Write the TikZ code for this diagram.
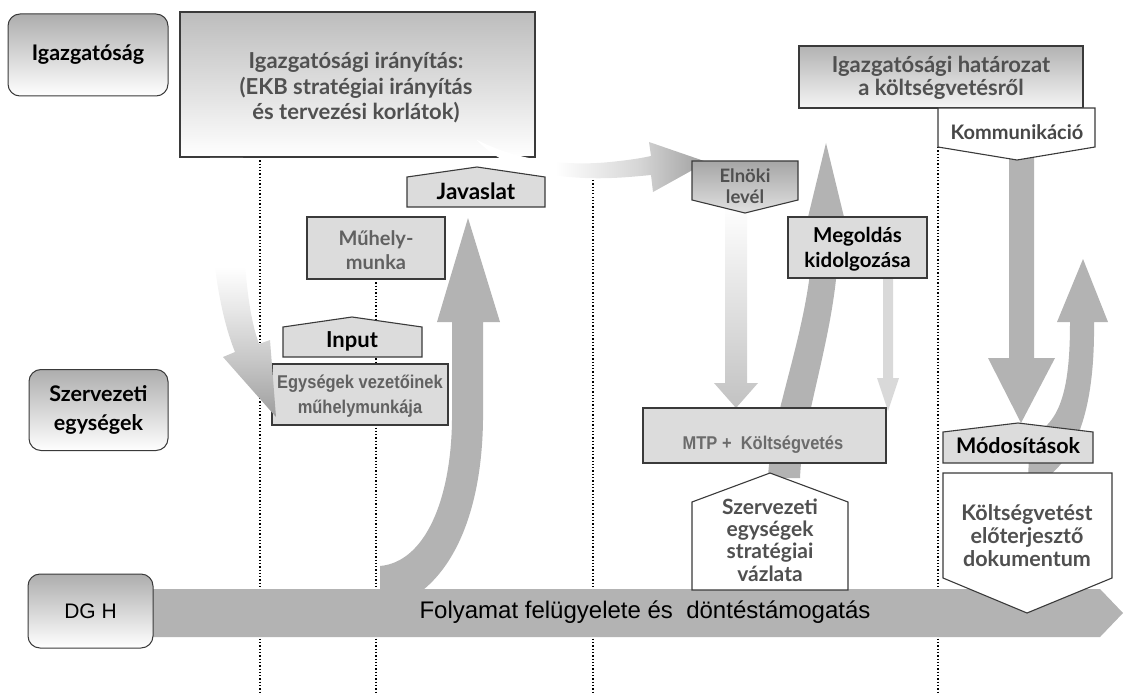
\documentclass[tikz,border=0pt]{standalone}
\usepackage{fontspec}
\setmainfont{Lato}
\newfontfamily\arialfont{Liberation Sans}
\newfontfamily\arialnfont[FakeStretch=0.89]{Liberation Sans}
\definecolor{arrowgray}{HTML}{B3B3B3}
\definecolor{boxgray}{HTML}{DCDCDC}
\definecolor{edge}{HTML}{3A3A3A}
\definecolor{txtgray}{HTML}{505050}
\pgfdeclareverticalshading{fadeA}{100bp}{color(0bp)=(black!38); color(25bp)=(black!38); color(36bp)=(black!22); color(46bp)=(black!9); color(54bp)=(white); color(100bp)=(white)}
\pgfdeclarehorizontalshading{fadeB}{100bp}{color(0bp)=(white); color(25bp)=(white); color(42bp)=(white); color(60bp)=(black!16); color(75bp)=(black!38); color(100bp)=(black!38)}
\begin{document}
\begin{tikzpicture}[x=1pt,y=-1pt,
  lbl/.style={draw=edge, line width=1pt, rounded corners=12pt, top color=black!32, bottom color=white,
    font=\bfseries\fontsize{21.5}{29}\selectfont, align=center, inner sep=0pt},
  dotline/.style={dotted, line width=1.3pt, black},
  plainbox/.style={draw=edge, line width=1.1pt, fill=boxgray},
  whitebox/.style={draw=edge, line width=1.1pt, fill=white},
  txt/.style={align=center, inner sep=0pt},
]
\useasboundingbox (0,0) rectangle (1126,695);

% dotted guide lines
\coordinate (d1a) at (260,157); \coordinate (d1b) at (260,695);
\coordinate (d2a) at (376,279); \coordinate (d2b) at (376,695);
\coordinate (d3a) at (593,180); \coordinate (d3b) at (593,695);
\coordinate (d4a) at (938,147); \coordinate (d4b) at (938,695);
\draw[dotline] (d1a) -- (d1b);
\draw[dotline] (d2a) -- (d2b);
\draw[dotline] (d3a) -- (d3b);
\draw[dotline] (d4a) -- (d4b);

% process band
\fill[arrowgray] (153,589) -- (1100,589) -- (1123,613) -- (1100,637) -- (153,637) -- cycle;
\node[txt, font=\arialfont\fontsize{24}{28}\selectfont] (band) at (645,612) {Folyamat felügyelete és~ döntéstámogatás};

% up arrow to Javaslat
\fill[arrowgray] (380,590) -- (380,566) .. controls (425,562) and (451,500) .. (452,420) -- (452,322) -- (437,322) -- (468,218) -- (500,322) -- (483,322) -- (483,420) .. controls (482,500) and (460,560) .. (423,590) -- cycle;

% arrow behind Megoldas
\fill[arrowgray] (768,478) .. controls (770,420) and (808,330) .. (812,250) -- (800,250) -- (826,143) -- (852,250) -- (838,250) .. controls (836,330) and (802,420) .. (800,478) -- cycle;

% right curved up arrow
\fill[arrowgray] (1028,478) -- (1030,436) .. controls (1062,424) and (1070,385) .. (1070,322) -- (1057,322) -- (1083,259) -- (1108,322) -- (1094,322) .. controls (1095,405) and (1078,455) .. (1046,478) -- cycle;

% Kommunikacio down arrow
\fill[arrowgray] (1009,150) -- (1009,358) -- (988,358) -- (1021,423) -- (1055,358) -- (1034,358) -- (1034,150) -- cycle;

% faded down arrow below Elnoki
\shade[top color=white, bottom color=black!24] (725,205) -- (725,383) -- (714,383) -- (736,408) -- (758,383) -- (747,383) -- (747,205) -- cycle;

% thin light arrow
\fill[black!15] (883,278) -- (883,378) -- (877,378) -- (888,411) -- (899,378) -- (893,378) -- (893,278) -- cycle;

% left labels
\node[lbl, minimum width=160pt, minimum height=82pt] (igaz) at (88,55) {Igazgatóság};
\node[lbl, minimum width=139pt, minimum height=81pt] (szerv) at (98.5,410) {Szervezeti\\egységek};
\node[lbl, minimum width=125pt, minimum height=74pt, font=\arialfont\fontsize{21}{24}\selectfont] (dgh) at (90.5,611) {DG H};

% main box
\node[draw=edge, line width=1.1pt, top color=black!26, bottom color=white, minimum width=355pt, minimum height=145pt, inner sep=0pt] (main) at (357.5,84.5) {};
\node[txt, text=txtgray, font=\bfseries\fontsize{22}{25.5}\selectfont] (maintxt) at (356,88) {Igazgatósági irányítás:\\(EKB stratégiai irányítás\\és tervezési korlátok)};

% Elnoki curved arrow
\shade[shading=fadeB] (477,140) .. controls (520,162) and (570,166) .. (610,162) .. controls (630,160) and (642,158) .. (651,156) -- (649,142) -- (707,162) -- (653,192) -- (651,175) .. controls (630,177) and (610,179) .. (585,178) .. controls (535,176) and (500,165) .. (477,140) -- cycle;

% Muhely-munka
\node[plainbox, minimum width=138pt, minimum height=62pt, inner sep=0pt] (muhely) at (376,248) {};
\node[txt, text=black!62, font=\bfseries\fontsize{20}{24}\selectfont] (muhelytxt) at (376,250) {Műhely-\\munka};

% Input
\draw[plainbox] (283,357) -- (283,327) -- (352,317) -- (422,327) -- (422,357) -- cycle;
\node[txt, font=\bfseries\fontsize{22}{24}\selectfont] (input) at (352,341) {Input};

% Egysegek vezetoinek
\node[plainbox, minimum width=176pt, minimum height=61pt, inner sep=0pt] (egys) at (360,394.5) {};
\node[txt, text=black!62, font=\arialnfont\bfseries\fontsize{18.5}{25}\selectfont] (egystxt) at (360,396) {Egységek vezetőinek\\műhelymunkája};

% left faded curved arrow
\shade[shading=fadeA] (210,158) .. controls (208,250) and (220,315) .. (235,352) -- (223,357) -- (276,417) -- (270,340) -- (259,344) .. controls (246,308) and (242,250) .. (243,158) -- cycle;

% Javaslat
\draw[plainbox] (407,207) -- (407,177) -- (477,167) -- (545,177) -- (545,207) -- cycle;
\node[txt, font=\bfseries\fontsize{22.5}{24}\selectfont] (javaslat) at (476,191) {Javaslat};

% Elnoki level
\draw[draw=edge, line width=1.1pt, top color=black!35, bottom color=black!12] (692,161) -- (798,161) -- (798,200) -- (745,213) -- (692,200) -- cycle;
\node[txt, text=txtgray, font=\bfseries\fontsize{18.5}{21}\selectfont] (elnoki) at (745,186) {Elnöki\\levél};

% Megoldas
\node[plainbox, minimum width=139pt, minimum height=61pt, inner sep=0pt] (megold) at (857.5,247.5) {};
\node[txt, font=\bfseries\fontsize{20.5}{25}\selectfont] (megoldtxt) at (857.5,249) {Megoldás\\kidolgozása};

% MTP
\node[plainbox, minimum width=243pt, minimum height=55pt, inner sep=0pt] (mtp) at (764.5,435.5) {};
\node[txt, text=black!58, font=\arialnfont\bfseries\fontsize{18.5}{22}\selectfont] (mtptxt) at (763,445) {MTP + \ Költségvetés};

% Szervezeti egysegek strategiai vazlata
\draw[whitebox] (692,590) -- (692,502) -- (770,473) -- (848,502) -- (848,590) -- cycle;
\node[txt, text=txtgray, font=\bfseries\fontsize{21}{22.3}\selectfont] (vazlat) at (770,540) {Szervezeti\\egységek\\stratégiai\\vázlata};

% Igazgatosagi hatarozat
\node[draw=edge, line width=1.1pt, top color=black!30, bottom color=black!4, minimum width=284pt, minimum height=62pt, inner sep=0pt] (hatar) at (941,77) {};
\node[txt, text=txtgray, font=\bfseries\fontsize{22}{22.5}\selectfont] (hatartxt) at (941,78) {Igazgatósági határozat\\a költségvetésről};

% Kommunikacio
\draw[whitebox] (938,108) -- (1095,108) -- (1095,147) -- (1017,160) -- (938,147) -- cycle;
\node[txt, text=black!72, font=\bfseries\fontsize{20}{22}\selectfont] (komm) at (1017,132) {Kommunikáció};

% Modositasok
\draw[plainbox] (943,463) -- (943,432) -- (1018,423) -- (1093,432) -- (1093,463) -- cycle;
\node[txt, font=\bfseries\fontsize{21.5}{24}\selectfont] (modos) at (1018,446) {Módosítások};

% Koltsegvetest eloterjeszto dokumentum
\draw[whitebox] (943,473) -- (1112,473) -- (1112,578) -- (1027,613) -- (943,578) -- cycle;
\node[txt, text=txtgray, font=\bfseries\fontsize{21.5}{23}\selectfont] (kolts) at (1027,536) {Költségvetést\\előterjesztő\\dokumentum};

\end{tikzpicture}
\end{document}
